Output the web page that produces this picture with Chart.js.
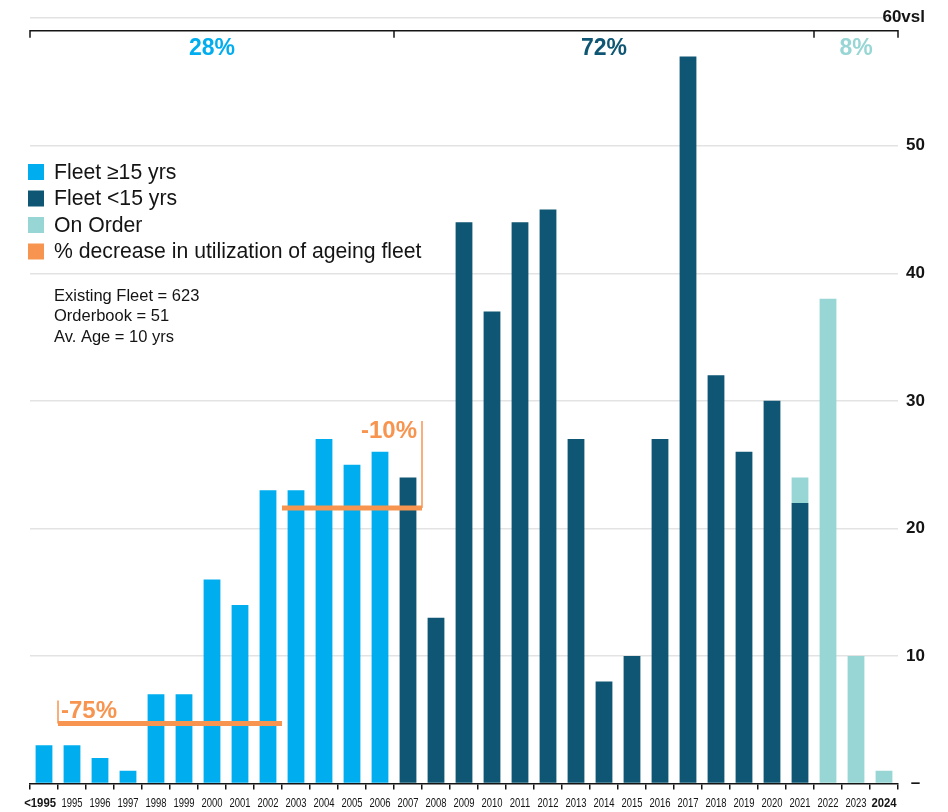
<!DOCTYPE html>
<html>
<head>
<meta charset="utf-8">
<script src="https://cdn.jsdelivr.net/npm/chart.js@4.4.1/dist/chart.umd.min.js"></script>
<style>
  html, body { margin: 0; padding: 0; background: #ffffff; }
  #wrap { position: relative; width: 948px; height: 812px; }
  canvas { display: block; }
</style>
</head>
<body>
<div id="wrap"><canvas id="chart" width="948" height="812"></canvas></div>
<script>
// Build year of vessels (count of ships per delivery year)
const categories = ['<1995','1995','1996','1997','1998','1999','2000','2001','2002','2003','2004','2005','2006',
                    '2007','2008','2009','2010','2011','2012','2013','2014','2015','2016','2017','2018','2019','2020','2021',
                    '2022','2023','2024'];
const fleetOld   = [3,3,2,1,7,7,16,14,23,23,27,25,26, null,null,null,null,null,null,null,null,null,null,null,null,null,null,null, null,null,null];
const fleetYoung = [null,null,null,null,null,null,null,null,null,null,null,null,null, 24,13,44,37,44,45,27,8,10,27,57,32,26,30,22, null,null,null];
const onOrder    = [null,null,null,null,null,null,null,null,null,null,null,null,null, null,null,null,null,null,null,null,null,null,null,null,null,null,null,2, 38,10,1];
const seriesNames = ['Fleet \u226515 yrs', 'Fleet <15 yrs', 'On Order'];
const utilName = '% decrease in utilization of ageing fleet';
const yTicks = [0,10,20,30,40,50,60];
const boldLabels = ['<1995', '2024'];
const avgAge = 10;

// Utilization drop markers: level (vessels axis), span of categories, text
const utilLabels = ['-75%', '-10%'];
const utilLevels = [4.7, 21.6];
const utilStart  = [1, 9];
const utilEnd    = [9, 14];

const C_OLD = '#00aeef', C_YOUNG = '#0e5673', C_ORDER = '#97d6d4', C_UTIL = '#f79550', INK = '#141414';

const sum = a => a.reduce((s, v) => s + (v || 0), 0);
const totalOld = sum(fleetOld), totalYoung = sum(fleetYoung), totalOrder = sum(onOrder);
const totalFleet = totalOld + totalYoung;
// Age groups across the top: [first category, last category + 1, share]
const groups = [
  [0, 13, Math.round(totalOld / totalFleet * 100) + '%', C_OLD],
  [13, 28, Math.round(totalYoung / totalFleet * 100) + '%', C_YOUNG],
  [28, 31, Math.round(totalOrder / totalFleet * 100) + '%', C_ORDER]
];

const SANS = "'Liberation Sans', Arial, sans-serif";

const overlay = {
  id: 'overlay',
  afterDatasetsDraw(chart) {
    const { ctx, scales: { x, y } } = chart;
    const edge = k => x.getPixelForValue(k - 0.5);
    ctx.save();
    // utilization markers
    utilLabels.forEach((txt, i) => {
      const yy = y.getPixelForValue(utilLevels[i]);
      const x0 = edge(utilStart[i]), x1 = edge(utilEnd[i]);
      ctx.strokeStyle = C_UTIL;
      ctx.lineWidth = 5;
      ctx.beginPath(); ctx.moveTo(x0, yy); ctx.lineTo(x1, yy); ctx.stroke();
      ctx.lineWidth = 1.5;
      const vx = i === 0 ? x0 : x1;
      const top = i === 0 ? yy - 23 : yy - 87;
      ctx.beginPath(); ctx.moveTo(vx, yy); ctx.lineTo(vx, top); ctx.stroke();
      ctx.fillStyle = C_UTIL;
      ctx.font = `bold 24px ${SANS}`;
      ctx.textBaseline = 'middle';
      if (i === 0) { ctx.textAlign = 'left'; ctx.fillText(txt, vx + 3, yy - 12); }
      else { ctx.textAlign = 'right'; ctx.fillText(txt, vx - 5, top + 10); }
    });
    ctx.restore();
  },
  afterDraw(chart) {
    const { ctx, chartArea, scales: { x, y } } = chart;
    const edge = k => x.getPixelForValue(k - 0.5);
    ctx.save();
    // category labels, set in a condensed width
    ctx.fillStyle = INK;
    ctx.textBaseline = 'middle';
    ctx.textAlign = 'center';
    const ly = chartArea.bottom + 19.5;
    const step = edge(1) - edge(0);
    categories.forEach((lab, i) => {
      const bold = boldLabels.includes(lab);
      const sx = bold ? 0.84 : 0.7;
      ctx.font = `${bold ? 'bold ' : ''}13.5px ${SANS}`;
      const w = ctx.measureText(lab).width * sx;
      let cx = x.getPixelForValue(i);
      if (w > step - 2) cx = edge(i + 1) - 2 - w / 2;
      ctx.save();
      ctx.translate(cx, ly);
      ctx.scale(sx, 1);
      ctx.fillText(lab, 0, 0);
      ctx.restore();
    });
    // group bracket
    const by = chartArea.top + 12.5;
    ctx.strokeStyle = INK;
    ctx.lineWidth = 1.5;
    ctx.beginPath();
    ctx.moveTo(edge(0), by); ctx.lineTo(edge(categories.length), by);
    const marks = [0, 13, 28, categories.length];
    marks.forEach(k => { ctx.moveTo(edge(k), by - 0.75); ctx.lineTo(edge(k), by + 7); });
    ctx.stroke();
    ctx.textAlign = 'center';
    ctx.font = `bold 23px ${SANS}`;
    groups.forEach(([a, b, txt, col]) => {
      ctx.fillStyle = col;
      ctx.fillText(txt, (edge(a) + edge(b)) / 2, by + 18);
    });
    // top unit label
    ctx.fillStyle = INK;
    ctx.font = `bold 17px ${SANS}`;
    ctx.textAlign = 'right';
    ctx.fillText('60vsl', 925, y.getPixelForValue(60) - 1);
    // legend
    const lx = chartArea.left - 2;
    const items = [[C_OLD, seriesNames[0]], [C_YOUNG, seriesNames[1]], [C_ORDER, seriesNames[2]], [C_UTIL, utilName]];
    ctx.textAlign = 'left';
    ctx.font = `21.2px ${SANS}`;
    items.forEach(([col, txt], i) => {
      const cy = 172 + i * 26.5;
      ctx.fillStyle = col;
      ctx.fillRect(lx, cy - 8, 16, 16);
      ctx.fillStyle = INK;
      ctx.fillText(txt, lx + 26, cy + 1);
    });
    ctx.font = `16.5px ${SANS}`;
    const info = ['Existing Fleet = ' + totalFleet, 'Orderbook = ' + totalOrder, 'Av. Age = ' + avgAge + ' yrs'];
    info.forEach((t, i) => ctx.fillText(t, lx + 26, 296 + i * 20.5));
    ctx.restore();
  }
};

new Chart(document.getElementById('chart'), {
  type: 'bar',
  data: {
    labels: categories,
    datasets: [
      { label: seriesNames[0], data: fleetOld, backgroundColor: C_OLD },
      { label: seriesNames[1], data: fleetYoung, backgroundColor: C_YOUNG },
      { label: seriesNames[2], data: onOrder, backgroundColor: C_ORDER }
    ]
  },
  options: {
    responsive: false,
    animation: false,
    layout: { padding: { left: 30, top: 17.5, right: 0, bottom: 0 } },
    datasets: { bar: { barPercentage: 0.6, categoryPercentage: 1 } },
    plugins: { legend: { display: false }, tooltip: { enabled: false } },
    scales: {
      x: {
        stacked: true,
        offset: true,
        afterFit: s => { s.height = 28.5; },
        border: { display: true, color: INK, width: 1.5 },
        grid: { offset: true, drawOnChartArea: false, drawTicks: true, tickLength: 6, color: INK, lineWidth: 1.5 },
        ticks: { display: false, autoSkip: false, maxRotation: 0, minRotation: 0 }
      },
      y: {
        stacked: true,
        position: 'right',
        min: 0, max: 60,
        afterFit: s => { s.width = 50; },
        afterBuildTicks: s => { s.ticks = yTicks.map(v => ({ value: v })); },
        border: { display: false },
        grid: { color: c => c.tick.value === 0 ? 'rgba(0,0,0,0)' : '#e3e3e3', lineWidth: 1.5, drawTicks: false },
        ticks: {
          padding: 8, color: INK,
          font: { family: SANS, size: 17, weight: 'bold' },
          callback: v => v === 0 ? ' \u2013' : (v === 60 ? '' : String(v))
        }
      }
    }
  },
  plugins: [overlay]
});
</script>
</body>
</html>
